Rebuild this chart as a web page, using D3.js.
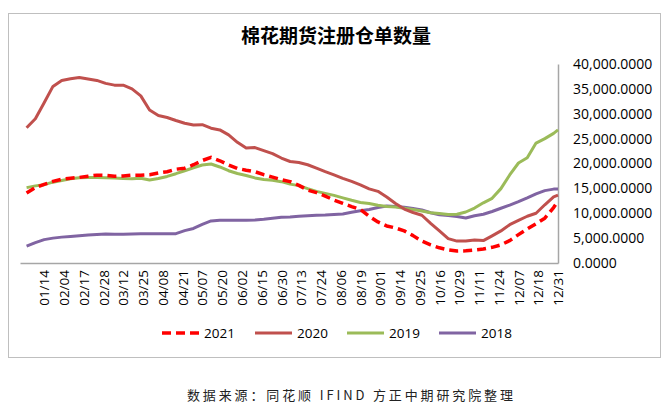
<!DOCTYPE html>
<html>
<head>
<meta charset="utf-8">
<script src="https://cdn.jsdelivr.net/npm/d3@7"></script>
<style>
  html, body { margin: 0; padding: 0; background: #fff; }
  svg { display: block; }
</style>
</head>
<body>
<svg id="chart" width="666" height="409"></svg>
<script>
// ---- data ----
const title = "棉花期货注册仓单数量";
const source = "数据来源：同花顺 IFIND 方正中期研究院整理";

// trading-day index of every sample (every 4th trading day, plus the last)
const sampleIdx = [0,4,8,12,16,20,24,28,32,36,40,44,48,52,56,60,64,68,72,76,80,84,88,92,96,100,
  104,108,112,116,120,124,128,132,136,140,144,148,152,156,160,164,168,172,176,180,184,188,192,196,
  200,204,208,212,216,220,224,228,232,236,240,242];

// x-axis category labels (every 9th trading day, starting at index 8)
const tickLabels = ["01/14","02/04","02/17","02/28","03/12","03/25","04/08","04/21","05/07","05/20",
  "06/02","06/15","06/30","07/13","07/24","08/06","08/19","09/01","09/14","09/25","10/16","10/29",
  "11/11","11/24","12/07","12/18","12/31"];
const tickIdx = tickLabels.map((d, i) => 8 + i * 9);

const yTicks = [0,5000,10000,15000,20000,25000,30000,35000,40000];

const s2021 = [14050,15150,15800,16400,16850,17050,17200,17450,17650,17600,17450,17500,17650,17650,
  17750,18100,18350,18850,19050,19750,20600,21250,20550,19700,19000,18650,18350,17750,17250,16750,
  16350,15600,14650,14150,13450,12650,12000,11350,10750,9400,8250,7450,7050,6450,5500,4400,3650,
  3050,2650,2400,2450,2600,2800,3150,3650,4500,5700,6850,7900,9000,11150,12450];

const s2020 = [27200,29000,32200,35500,36700,37050,37300,37000,36700,36100,35750,35750,35000,33600,
  30750,29650,29250,28650,28100,27750,27800,27100,26750,25750,24250,23100,23200,22600,22000,21100,
  20400,20200,19750,19050,18350,17700,17000,16400,15700,14900,14400,13250,11950,10850,10150,9600,
  7950,6450,4900,4400,4400,4600,4500,5450,6450,7700,8550,9400,10000,11700,13300,13650];

const s2019 = [15150,15500,15750,16250,16600,16950,17150,17200,17200,17150,17100,17000,16950,17050,
  16700,17000,17400,17950,18550,19150,19700,19900,19300,18550,18000,17600,17100,16800,16650,16350,
  15850,15550,14950,14400,14000,13600,13100,12600,12150,11950,11600,11350,11250,11000,10750,10450,
  10100,9950,9750,9800,10250,11050,12100,13000,14950,17700,20100,21150,24100,25000,26050,26750];

const s2018 = [3400,4100,4700,5000,5200,5350,5500,5650,5750,5850,5800,5800,5850,5900,5900,5900,5900,
  5900,6500,6950,7750,8450,8600,8600,8600,8600,8650,8800,9000,9200,9250,9400,9500,9600,9650,9750,
  9850,10200,10500,10750,11150,11450,11350,11200,10950,10650,10100,9700,9550,9350,9050,9500,9800,
  10350,11000,11650,12350,13100,13900,14550,14850,14850];

const seriesNames = ["2021","2020","2019","2018"];
const seriesValues = [s2021, s2020, s2019, s2018];
const seriesColors = ["#FF0000","#C0504D","#9BBB59","#8064A2"];
const seriesDash = ["9,5", null, null, null];

// ---- drawing ----
const svg = d3.select("#chart");
const font = "'Open Sans', 'Noto Sans', sans-serif";

// outer frame
svg.append("rect")
  .attr("x", 8.5).attr("y", 13.5).attr("width", 652).attr("height", 344)
  .attr("fill", "#fff").attr("stroke", "#BFBFBF").attr("stroke-width", 1);

// title
svg.append("text")
  .attr("x", 336).attr("y", 43)
  .attr("text-anchor", "middle")
  .attr("font-family", "'Noto Sans CJK SC', sans-serif")
  .attr("font-weight", "bold")
  .attr("font-size", 19)
  .attr("fill", "#000")
  .text(title);

const x = d3.scaleLinear().domain([-3, 242]).range([20, 558]);
const y = d3.scaleLinear().domain([0, 40000]).range([263, 64]);

// bottom axis
const xAxis = d3.axisBottom(x)
  .tickValues(tickIdx)
  .tickSize(0)
  .tickSizeOuter(0)
  .tickFormat((d, i) => tickLabels[i]);
const gx = svg.append("g").attr("transform", `translate(0,${y(0)})`).call(xAxis);
gx.select(".domain").attr("stroke", "#A6A6A6").attr("stroke-width", 1.5);
gx.selectAll("text")
  .attr("transform", "rotate(-90)")
  .attr("text-anchor", "end")
  .attr("x", -7).attr("y", 0).attr("dy", "0.35em")
  .attr("font-family", font).attr("font-size", 13.5).attr("fill", "#000");

// right axis
const yAxis = d3.axisRight(y)
  .tickValues(yTicks)
  .tickSize(0)
  .tickSizeOuter(0)
  .tickPadding(15)
  .tickFormat(d3.format(",.4f"));
const gy = svg.append("g").attr("transform", `translate(${x(242)},0)`).call(yAxis);
gy.select(".domain").attr("stroke", "#A6A6A6").attr("stroke-width", 1.5);
gy.selectAll("text").attr("font-family", font).attr("font-size", 14).attr("fill", "#000");

// lines (draw order: 2018, 2019, 2020, 2021 on top)
const line = d3.line()
  .x((d, i) => x(sampleIdx[i]))
  .y(d => y(d))
  .curve(d3.curveLinear);

[3, 2, 1, 0].forEach(k => {
  svg.append("path")
    .datum(seriesValues[k])
    .attr("d", line)
    .attr("fill", "none")
    .attr("stroke", seriesColors[k])
    .attr("stroke-width", k === 0 ? 3.5 : 3)
    .attr("stroke-linejoin", "round")
    .attr("stroke-dasharray", seriesDash[k]);
});

// legend
const legendX = [162, 255, 347, 439];
const lg = svg.append("g");
seriesNames.forEach((name, k) => {
  lg.append("line")
    .attr("x1", legendX[k]).attr("x2", legendX[k] + 37)
    .attr("y1", 333).attr("y2", 333)
    .attr("stroke", seriesColors[k])
    .attr("stroke-width", k === 0 ? 3.5 : 3)
    .attr("stroke-dasharray", seriesDash[k]);
  lg.append("text")
    .attr("x", legendX[k] + 42).attr("y", 333).attr("dy", "0.35em")
    .attr("font-family", font).attr("font-size", 13.5).attr("fill", "#000")
    .text(name);
});

// source note
svg.append("text")
  .attr("x", 187).attr("y", 400)
  .attr("font-family", "'Noto Sans CJK SC', serif")
  .attr("font-size", 13)
  .attr("fill", "#222")
  .attr("textLength", 326)
  .attr("lengthAdjust", "spacing")
  .text(source);
</script>
</body>
</html>
